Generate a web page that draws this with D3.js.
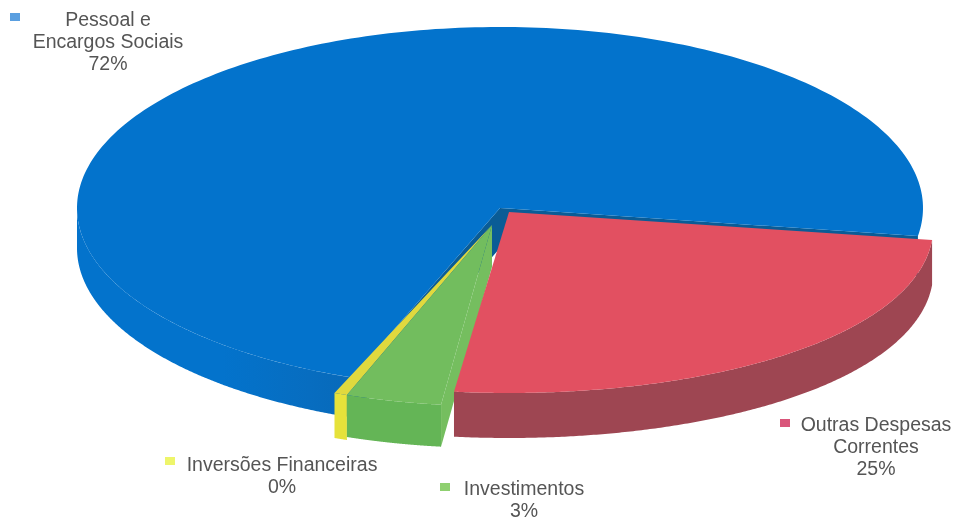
<!DOCTYPE html>
<html>
<head>
<meta charset="utf-8">
<script src="https://cdn.jsdelivr.net/npm/d3@7"></script>
<style>
  html, body { margin: 0; background: #fff; }
  svg { display: block; filter: blur(0.7px); }
  text { font-family: "Liberation Sans", Arial, sans-serif; font-size: 19.5px; fill: #555; text-anchor: middle; }
</style>
</head>
<body>
<svg id="chart" width="957" height="520"></svg>
<script>
// Values (the printed labels are rounded)
const categories = ['Outras Despesas Correntes', 'Investimentos', 'Inversões Financeiras', 'Pessoal e Encargos Sociais'];
const values = [24.45, 3.65, 0.5, 71.4];
const labelLines = [['Outras Despesas', 'Correntes', '25%'], ['Investimentos', '3%'], ['Inversões Financeiras', '0%'], ['Pessoal e', 'Encargos Sociais', '72%']];

const topColors = ['#e25061', '#72bd5e', '#e0d93e', '#0373cc'];
const rimColors = ['#9e4652', '#64b556', '#e6e23a', 'url(#blueRim)'];
const sideColors = [null, '#75be5f', null, '#0a5c96'];
const keyColors = ['#d9557a', '#8fd070', '#eef56a', '#5a9fe0'];

// Layout
const cx = 500, cy = 208, rx = 423, ry = 181;
const depths = [45, 42, 45, 40];
const explode = [[9, 4], [-8, 17], [-8, 17], [0, 0]];
const bulge = [0.08, 0, 0, 0];   // the scan's perspective makes the red slice rounder
const tuck = [0, 0, 0, 1.4 * Math.PI / 180];   // blue runs on under the yellow sliver
const labelPos = [[876, 431], [524, 495], [282, 471], [108, 26]];
const keyPos = [[785, 423], [445, 487], [170, 461], [15, 17]];
const drawOrder = [3, 2, 1, 0];

const svg = d3.select('#chart');

const rimGrad = svg.append('defs').append('linearGradient')
  .attr('id', 'blueRim')
  .attr('gradientUnits', 'userSpaceOnUse')
  .attr('x1', -rx).attr('x2', -100).attr('y1', 0).attr('y2', 0);
rimGrad.selectAll('stop')
  .data([[0, '#0373cc'], [0.45, '#0373cc'], [0.72, '#076dc0'], [1, '#0865b2']])
  .join('stop')
  .attr('offset', d => d[0])
  .attr('stop-color', d => d[1]);

const pie = d3.pie().sort(null)
  .startAngle(98.9 * Math.PI / 180)
  .endAngle((98.9 + 360) * Math.PI / 180);
const arcs = pie(values);

const point = (a, t) => [
  rx * Math.sin(a) * (1 + t * Math.max(0, -Math.cos(a))),
  -ry * Math.cos(a)
];

const sample = (a0, a1, t) => d3.range(0, 241).map(i => point(a0 + (a1 - a0) * i / 240, t));

// Front wall: only the part of the arc that faces the viewer
function rimPath(a0, a1, depth, t) {
  const turn = 2 * Math.PI;
  const k = Math.floor(a0 / turn);
  const from = Math.max(a0, (k + 0.25) * turn), to = Math.min(a1, (k + 0.75) * turn);
  if (to <= from) return null;
  const pts = sample(from, to, t);
  const lower = pts.map(([x, y]) => [x, y + depth]).reverse();
  return d3.line()(pts.concat(lower)) + 'Z';
}

function sideWall(a, depth, t) {
  const [x, y] = point(a, t);
  return d3.line()([[0, 0], [x, y], [x, y + depth], [0, depth]]) + 'Z';
}

const slices = svg.append('g')
  .selectAll('g')
  .data(drawOrder)
  .join('g')
  .attr('transform', i => `translate(${cx + explode[i][0]},${cy + explode[i][1]})`);

slices.each(function (i) {
  const g = d3.select(this);
  const a0 = arcs[i].startAngle - tuck[i], a1 = arcs[i].endAngle;
  if (sideColors[i]) {
    g.append('path').attr('d', sideWall(i === 3 ? a1 : a0, depths[i], bulge[i])).attr('fill', sideColors[i]);
    if (i === 3) g.append('path').attr('d', sideWall(a0, depths[i], bulge[i])).attr('fill', sideColors[i]);
  }
  g.append('path').attr('d', rimPath(a0, a1, depths[i], bulge[i])).attr('fill', rimColors[i]);
  g.append('path')
    .attr('d', d3.line()([[0, 0], ...sample(a0, a1, bulge[i])]) + 'Z')
    .attr('fill', topColors[i]);
});

// Labels and keys
svg.append('g').selectAll('rect')
  .data(categories)
  .join('rect')
  .attr('x', (c, i) => keyPos[i][0] - 5)
  .attr('y', (c, i) => keyPos[i][1] - 4)
  .attr('width', 10)
  .attr('height', 8)
  .attr('fill', (c, i) => keyColors[i]);

svg.append('g').selectAll('text')
  .data(categories)
  .join('text')
  .attr('transform', (c, i) => `translate(${labelPos[i]})`)
  .selectAll('tspan')
  .data((c, i) => labelLines[i])
  .join('tspan')
  .attr('x', 0)
  .attr('y', (t, j) => j * 22)
  .text(t => t);
</script>
</body>
</html>
